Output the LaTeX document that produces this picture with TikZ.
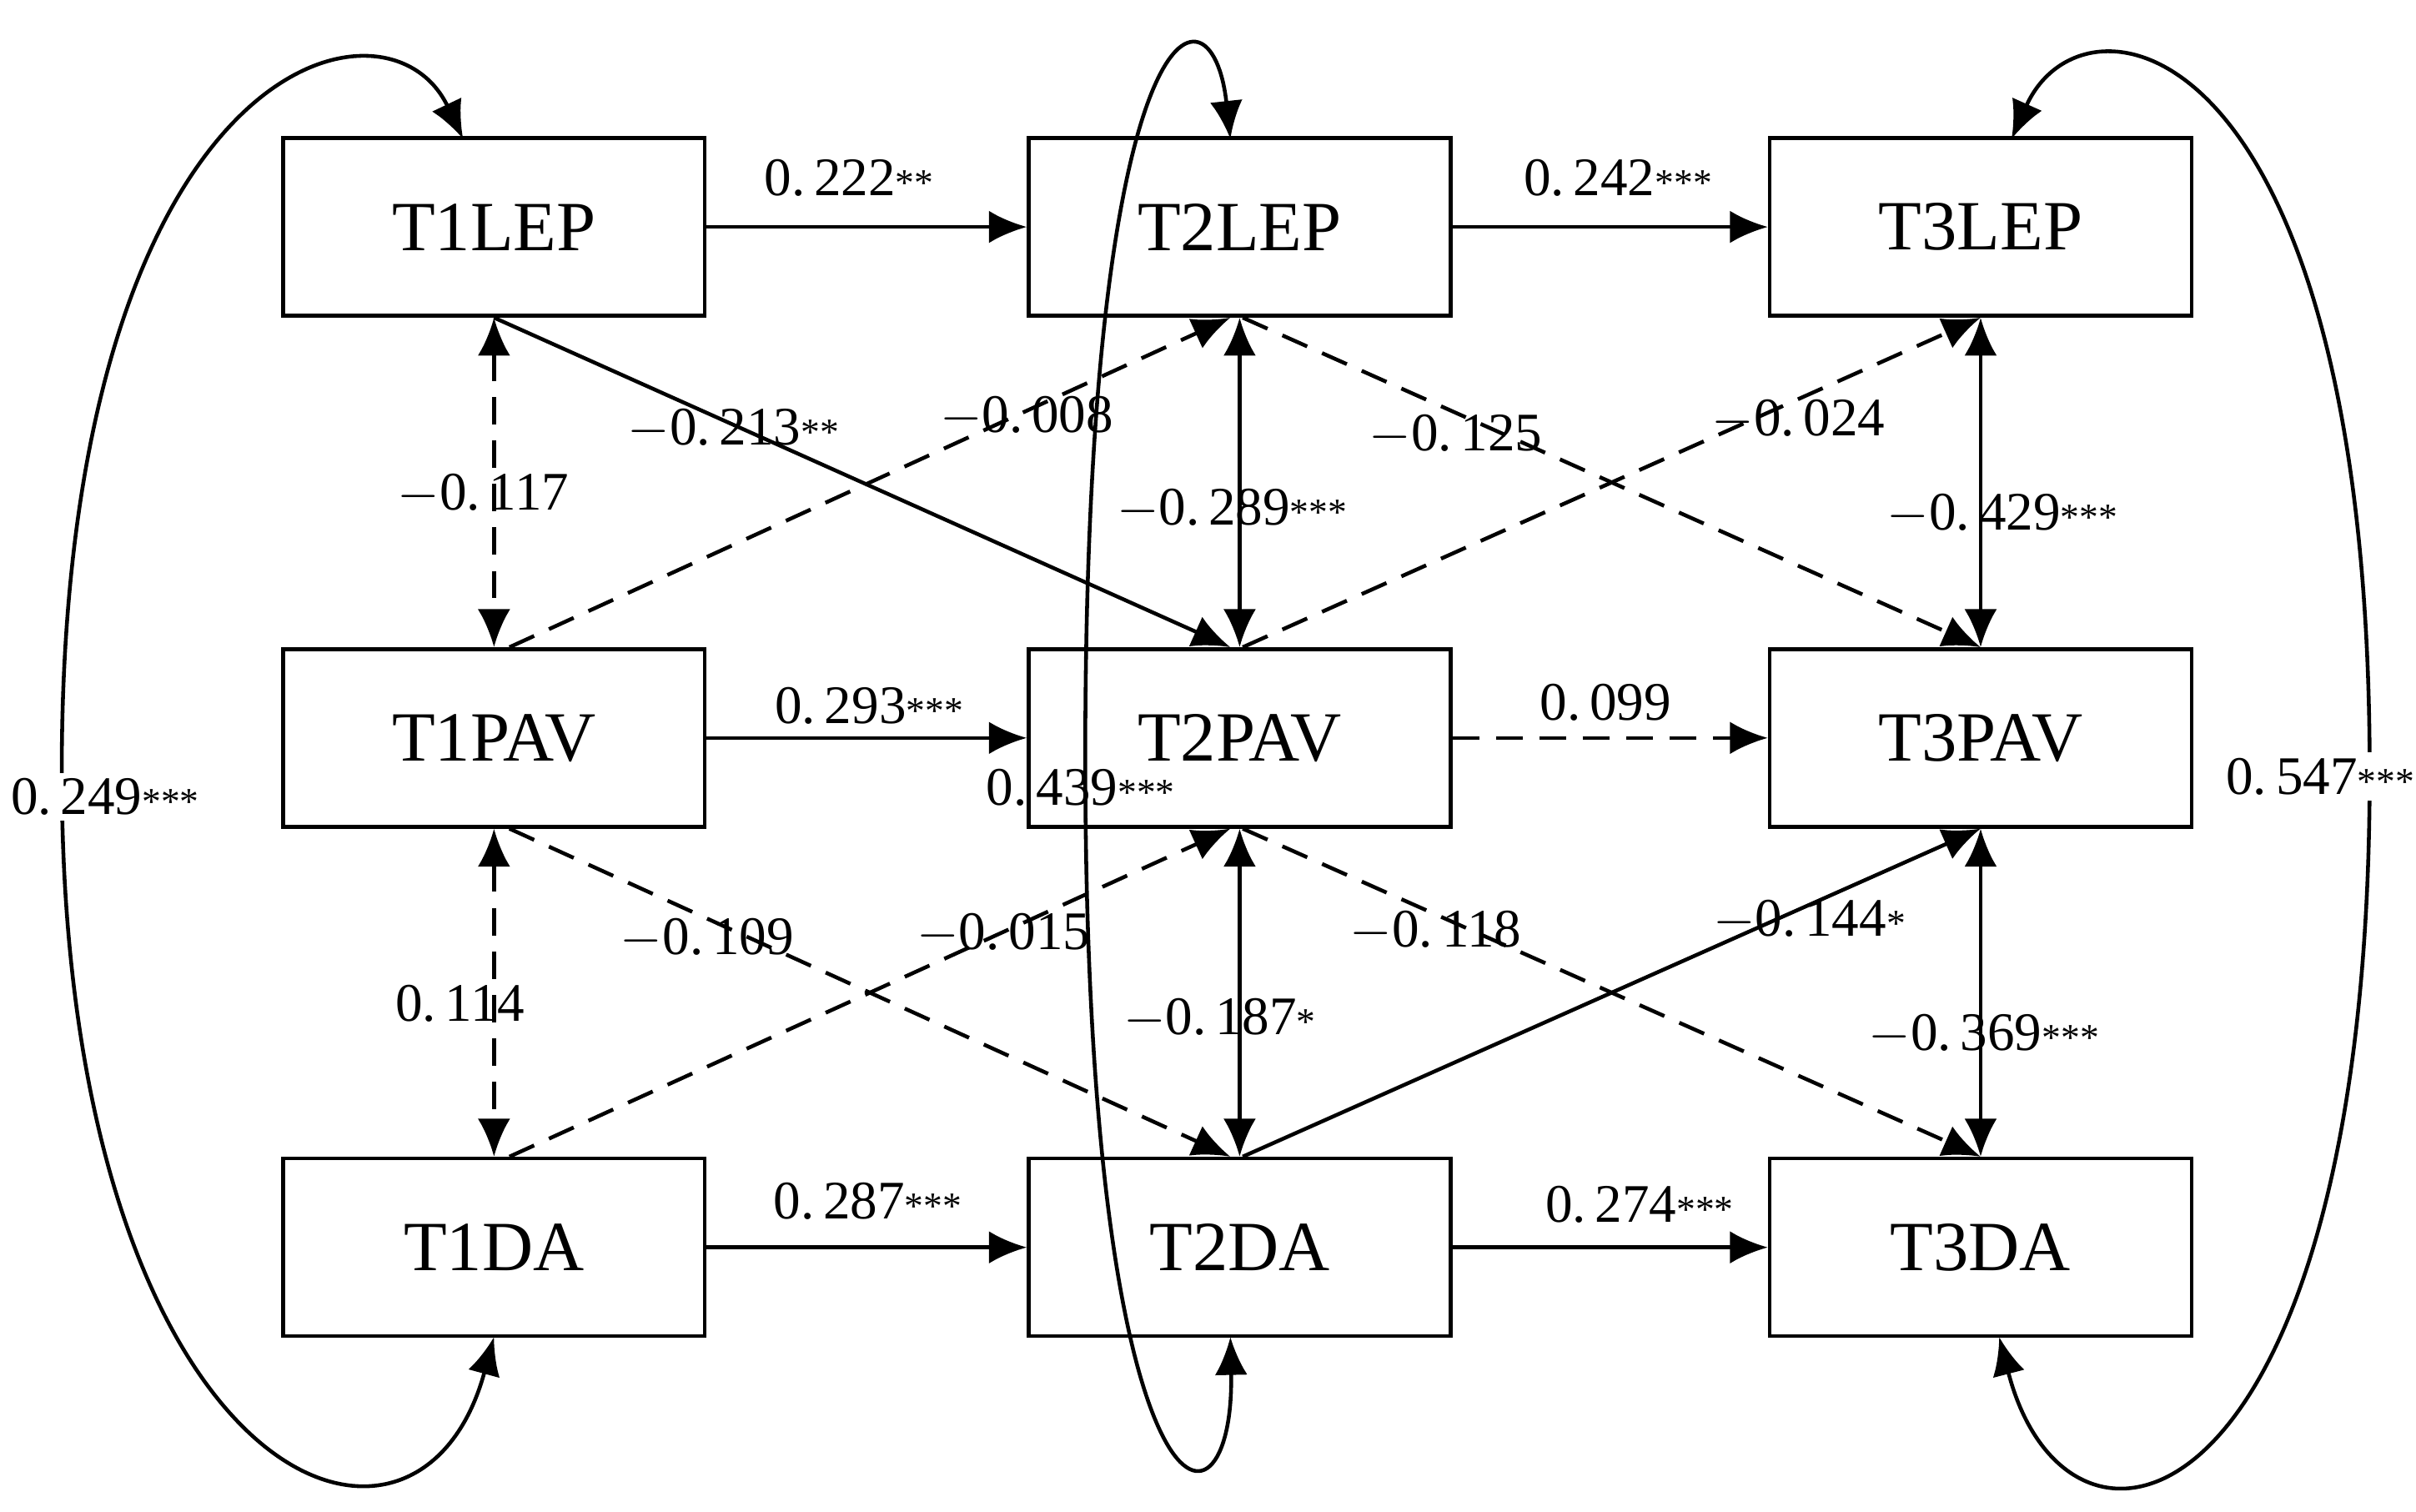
\documentclass[tikz,border=0pt]{standalone}
\usepackage{fontspec}
\setmainfont{Liberation Serif}
\usetikzlibrary{arrows.meta}
\newcommand{\st}[1]{{\fontsize{7}{8}\selectfont #1}}
\begin{document}
\begin{tikzpicture}[x=0.01cm,y=-0.01cm,
  box/.style={draw,line width=0.7pt,minimum width=2.73cm,minimum height=1.15cm,font=\fontsize{13}{15}\selectfont},
  a/.style={-{Latex[length=7pt,width=6pt]},line width=0.7pt},
  aa/.style={{Latex[length=7pt,width=6pt]}-{Latex[length=7pt,width=6pt]},line width=0.7pt},
  dsh/.style={dash pattern=on 5pt off 3pt},
  lab/.style={font=\fontsize{10}{12}\selectfont,inner sep=1pt}]
\useasboundingbox (0,0) rectangle (1565,979);
\node[box] (a1) at (320,147) {T1LEP};
\node[box] (a2) at (803,147) {T2LEP};
\node[box] (a3) at (1283,147) {T3LEP};
\node[box] (b1) at (320,478) {T1PAV};
\node[box] (b2) at (803,478) {T2PAV};
\node[box] (b3) at (1283,478) {T3PAV};
\node[box] (c1) at (320,808) {T1DA};
\node[box] (c2) at (803,808) {T2DA};
\node[box] (c3) at (1283,808) {T3DA};
% horizontal
\draw[a] (a1) -- (a2); \node[lab] at (550,115) {0.\,222\st{**}};
\draw[a] (a2) -- (a3); \node[lab] at (1048,115) {0.\,242\st{***}};
\draw[a] (b1) -- (b2); \node[lab] at (563,457) {0.\,293\st{***}};
\draw[a,dsh] (b2) -- (b3); \node[lab] at (1040,455) {0.\,099};
\draw[a] (c1) -- (c2); \node[lab] at (562,778) {0.\,287\st{***}};
\draw[a] (c2) -- (c3); \node[lab] at (1062,780) {0.\,274\st{***}};
% vertical
\draw[aa,dsh] (a1) -- (b1); \node[lab] at (313,320) {$-$0.\,117};
\draw[aa,dsh] (b1) -- (c1); \node[lab] at (298,650) {0.\,114};
\draw[aa] (a2) -- (b2); \node[lab] at (798,330) {$-$0.\,289\st{***}};
\draw[aa] (b2) -- (c2); \node[lab] at (790,660) {$-$0.\,187\st{*}};
\draw[aa] (a3) -- (b3); \node[lab] at (1297,333) {$-$0.\,429\st{***}};
\draw[aa] (b3) -- (c3); \node[lab] at (1285,670) {$-$0.\,369\st{***}};
% diagonals
\draw[a] (a1.south) -- ([xshift=-0.06cm]b2.north); \node[lab] at (475,278) {$-$0.\,213\st{**}};
\draw[a,dsh] ([xshift=0.1cm]b1.north) -- ([xshift=-0.06cm]a2.south); \node[lab] at (665,270) {$-$0.\,008};
\draw[a,dsh] ([xshift=0.02cm]a2.south) -- (b3.north); \node[lab] at (943,282) {$-$0.\,125};
\draw[a,dsh] ([xshift=0.02cm]b2.north) -- (a3.south); \node[lab] at (1165,272) {$-$0.\,024};
\draw[a,dsh] ([xshift=0.1cm]b1.south) -- ([xshift=-0.06cm]c2.north); \node[lab] at (458,608) {$-$0.\,109};
\draw[a,dsh] ([xshift=0.1cm]c1.north) -- ([xshift=-0.06cm]b2.south); \node[lab] at (650,605) {$-$0.\,015};
\draw[a,dsh] ([xshift=0.02cm]b2.south) -- (c3.north); \node[lab] at (930,603) {$-$0.\,118};
\draw[a] ([xshift=0.02cm]c2.north) -- (b3.south); \node[lab] at (1172,596) {$-$0.\,144\st{*}};
% covariance loops
\coordinate (l1) at (300,90); \coordinate (l2) at (320,866);
\draw[aa] (l1) .. controls (250,-15) and (40,40) .. (40,500) .. controls (40,960) and (270,1050) .. (l2);
\node[lab,fill=white] at (68,516) {0.\,249\st{***}};
\coordinate (m1) at (797,90); \coordinate (m2) at (797,866);
\draw[aa] (m1) .. controls (785,-20) and (703,0) .. (703,490) .. controls (703,1000) and (800,1010) .. (m2);
\node[lab] at (700,510) {0.\,439\st{***}};
\coordinate (r1) at (1303,90); \coordinate (r2) at (1295,866);
\draw[aa] (r1) .. controls (1350,-15) and (1535,20) .. (1535,500) .. controls (1535,990) and (1340,1040) .. (r2);
\node[lab,fill=white] at (1503,503) {0.\,547\st{***}};
\end{tikzpicture}
\end{document}
